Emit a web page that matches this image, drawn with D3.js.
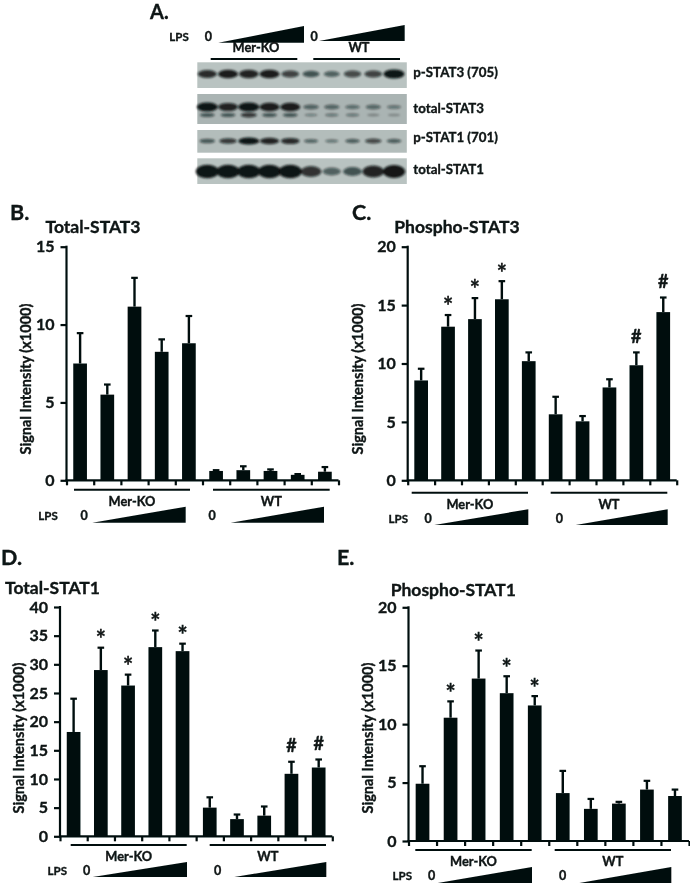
<!DOCTYPE html>
<html><head><meta charset="utf-8">
<script src="https://cdnjs.cloudflare.com/ajax/libs/d3/7.8.5/d3.min.js"></script>
<style>
html,body{margin:0;padding:0;background:#fff}
svg{display:block}
text{font-family:Lato,"Open Sans",sans-serif;font-weight:700;fill:#0c1414;stroke:#0c1414;stroke-width:0.35px}
</style></head><body><svg id="c" width="690" height="883"></svg>
<script>
// ---------- data ----------
const lanes = ["KO-0","KO-1","KO-2","KO-3","KO-4","WT-0","WT-1","WT-2","WT-3","WT-4"];
const groupNames = ["Mer-KO","WT"];
const yTitle = "Signal Intensity (x1000)";

const totalStat3Mean = [7.5,5.5,11.15,8.25,8.8,0.6,0.65,0.6,0.35,0.55];
const totalStat3Top  = [9.45,6.15,13,9.05,10.55,0.65,0.9,0.7,0.4,0.85];
const totalStat3Marks = ["","","","","","","","","",""];
const totalStat3Ticks = [0,5,10,15];

const phosphoStat3Mean = [8.55,13.15,13.8,15.5,10.2,5.65,5.05,7.95,9.85,14.4];
const phosphoStat3Top  = [9.55,14.15,15.6,17.05,10.95,7.15,5.5,8.65,10.95,15.65];
const phosphoStat3Marks = ["","*","*","*","","","","","#","#"];
const phosphoStat3Ticks = [0,5,10,15,20];

const totalStat1Mean = [18.2,29,26.3,33,32.3,5,3,3.6,10.9,12];
const totalStat1Top  = [24,32.9,28.2,35.9,33.6,6.8,3.8,5.2,13,13.4];
const totalStat1Marks = ["","*","*","*","*","","","","#","#"];
const totalStat1Ticks = [0,5,10,15,20,25,30,35,40];

const phosphoStat1Mean = [4.9,10.55,13.9,12.65,11.6,4.1,2.75,3.2,4.4,3.85];
const phosphoStat1Top  = [6.4,11.95,16.3,14.1,12.4,6,3.6,3.35,5.15,4.4];
const phosphoStat1Marks = ["","*","*","*","*","","","","",""];
const phosphoStat1Ticks = [0,5,10,15,20];

// blot band strengths, 0..1
const blotPStat3 = [0.8,0.9,0.85,0.9,0.65,0.55,0.45,0.6,0.65,1];
const blotTStat3 = [1,0.85,1,0.9,0.9,0.4,0.38,0.32,0.36,0.26];
const blotTStat3Lower = [0.5,0.5,0.7,0.5,0.5,0.2,0.25,0.25,0.1,0.08];
const blotPStat1 = [0.5,0.7,1,0.85,0.8,0.4,0.3,0.45,0.6,0.45];
const blotTStat1 = [1,1,1,1,1,0.75,0.45,0.55,0.85,0.95];
const blotLabels = ["p-STAT3 (705)","total-STAT3","p-STAT1 (701)","total-STAT1"];

// ---------- drawing ----------
const INK = "#050f0f";
const svg = d3.select("#c");
const defs = svg.append("defs");
defs.append("filter").attr("id","bl").attr("x","-40%").attr("y","-80%").attr("width","180%").attr("height","260%")
  .append("feGaussianBlur").attr("stdDeviation","1.2");
defs.append("filter").attr("id","soft").attr("x","-5%").attr("y","-5%").attr("width","110%").attr("height","110%")
  .append("feGaussianBlur").attr("stdDeviation","0.3");
const root = svg.append("g").attr("filter","url(#soft)");

function txt(x,y,s,size,anchor){
  return root.append("text").attr("x",x).attr("y",y).attr("dy","0.35em")
    .attr("font-size",size).attr("text-anchor",anchor||"middle").text(s);
}
function wedge(x0,x1,yb,yt){
  root.append("path").attr("d",d3.line()([[x0,yb],[x1,yt],[x1,yb]])+"Z").attr("fill",INK);
}
function rule(x0,x1,y,w){
  root.append("line").attr("x1",x0).attr("x2",x1).attr("y1",y).attr("y2",y)
    .attr("stroke",INK).attr("stroke-width",w||2);
}

function panel(o){
  const g = root.append("g");
  const edge = d3.scaleLinear().domain([0,lanes.length]).range([o.x0,o.x1]);
  const x = d3.scaleBand().domain(lanes).range([o.x0,o.x1]).paddingInner(0.5).paddingOuter(0.25);
  const y = d3.scaleLinear().domain([0,o.ticks[o.ticks.length-1]]).range([o.y0,o.y1]);
  const bw = 13.7;
  const cx = (d)=>x(d)+x.bandwidth()/2;

  g.selectAll("line.err").data(lanes).join("line").attr("class","err")
    .attr("x1",cx).attr("x2",cx)
    .attr("y1",(d,i)=>y(o.mean[i])).attr("y2",(d,i)=>y(o.top[i]))
    .attr("stroke",INK).attr("stroke-width",2.4);
  g.selectAll("line.cap").data(lanes).join("line").attr("class","cap")
    .attr("x1",d=>cx(d)-3.3).attr("x2",d=>cx(d)+3.3)
    .attr("y1",(d,i)=>y(o.top[i])).attr("y2",(d,i)=>y(o.top[i]))
    .attr("stroke",INK).attr("stroke-width",2.2);
  g.selectAll("rect").data(lanes).join("rect")
    .attr("x",d=>cx(d)-bw/2).attr("width",bw)
    .attr("y",(d,i)=>y(o.mean[i])).attr("height",(d,i)=>o.y0-y(o.mean[i]))
    .attr("fill",INK);
  g.selectAll("text.mark").data(lanes).join("text").attr("class","mark")
    .attr("x",cx).attr("text-anchor","middle").attr("dy","0.35em")
    .attr("y",(d,i)=>y(o.top[i])-(o.marks[i]==="#"?16:8))
    .attr("font-size",(d,i)=>o.marks[i]==="#"?18:24)
    .text((d,i)=>o.marks[i]);

  const ay = g.append("g").attr("transform",`translate(${o.x0},0)`)
    .call(d3.axisLeft(y).tickValues(o.ticks).tickSize(6).tickPadding(6).tickFormat(d3.format("d")));
  const ax = g.append("g").attr("transform",`translate(0,${o.y0})`)
    .call(d3.axisBottom(edge).tickValues(d3.range(0,lanes.length+1)).tickSize(5).tickFormat(""));
  [ay,ax].forEach(a=>{
    a.selectAll("path").attr("stroke",INK).attr("stroke-width",2.2);
    a.selectAll("line").attr("stroke",INK).attr("stroke-width",2.2);
    a.selectAll("text").attr("font-size",16).attr("font-family",null);
  });
  ay.selectAll("path").attr("d",`M-0,${o.y0+1}V${o.y1-1}`);
  ax.selectAll("path").attr("d",`M${o.x0-1},0H${o.x1}`);
  ay.attr("font-family",null);
  ax.attr("font-family",null);

  txt(o.tx,o.ty,o.title,17.5,"start");
  root.append("text").attr("transform",`translate(${o.lx},${o.ly}) rotate(-90)`)
    .attr("dy","0.35em").attr("text-anchor","middle").attr("font-size",14.5).text(yTitle);
  txt(o.letter[1],o.letter[2],o.letter[0],21.5,"start");

  rule(o.kb[0],o.kb[1],o.by); rule(o.wb[0],o.wb[1],o.by);
  txt((o.kb[0]+o.kb[1])/2,o.gy,groupNames[0],12.8);
  txt((o.wb[0]+o.wb[1])/2,o.gy,groupNames[1],12.8);
  txt(o.lps[0],o.lps[1],"LPS",11.5);
  txt(o.z[0],o.lps[1],"0",12.5); txt(o.z[1],o.lps[1],"0",12.5);
  wedge(o.kw[0],o.kw[1],o.wy[0],o.wy[1]);
  wedge(o.ww[0],o.ww[1],o.wy[0],o.wy[1]);
}

panel({title:"Total-STAT3",mean:totalStat3Mean,top:totalStat3Top,marks:totalStat3Marks,ticks:totalStat3Ticks,
  x0:66.5,x1:338.5,y0:480.3,y1:246.7,tx:45.5,ty:226.5,lx:26,ly:379,letter:["B.",10,212],
  kb:[74,190],wb:[213,329.7],by:489.7,gy:502,lps:[48,516],z:[84,212],kw:[92.3,185.7],ww:[230.7,324],wy:[522.7,506.7]});
panel({title:"Phospho-STAT3",mean:phosphoStat3Mean,top:phosphoStat3Top,marks:phosphoStat3Marks,ticks:phosphoStat3Ticks,
  x0:407.7,x1:676.7,y0:480.3,y1:246.7,tx:394.3,ty:226.5,lx:357.7,ly:379,letter:["C.",352,212],
  kb:[411.7,528],wb:[550.7,667.3],by:492.7,gy:504.5,lps:[398.3,519],z:[428,559.3],kw:[434.3,528.3],ww:[575.7,667.7],wy:[525,509.3]});
panel({title:"Total-STAT1",mean:totalStat1Mean,top:totalStat1Top,marks:totalStat1Marks,ticks:totalStat1Ticks,
  x0:60,x1:332.3,y0:836.3,y1:607,tx:5,ty:588,lx:19.3,ly:738,letter:["D.",1,557],
  kb:[70.7,186.7],wb:[209.7,326],by:845,gy:857,lps:[57.3,871],z:[86.7,217.7],kw:[92.7,187],ww:[234.3,326.3],wy:[877,862]});
panel({title:"Phospho-STAT1",mean:phosphoStat1Mean,top:phosphoStat1Top,marks:phosphoStat1Marks,ticks:phosphoStat1Ticks,
  x0:408.5,x1:689,y0:841,y1:607.3,tx:390.7,ty:590,lx:368.3,ly:738,letter:["E.",337,557],
  kb:[415.3,531.7],wb:[554.7,671],by:850,gy:861.5,lps:[402.3,876],z:[431.7,562.7],kw:[437.7,532],ww:[579.3,671.3],wy:[883,867]});

// ---------- panel A: blots ----------
const laneX = d3.scalePoint().domain(lanes).range([207.3,394]);
const blots = root.append("g");
function blotRow(r){
  blots.append("rect").attr("x",197.3).attr("width",209.5).attr("y",r.top).attr("height",r.h).attr("fill",r.bg);
  r.layers.forEach(l=>{
    const a = d3.scaleLinear().domain([0,1]).range([0.2,1]);
    blots.append("g").attr("filter","url(#bl)").selectAll("ellipse").data(l.v).join("ellipse")
      .attr("cx",(d,i)=>laneX(lanes[i])).attr("cy",l.y)
      .attr("rx",d=>l.rx[0]+(l.rx[1]-l.rx[0])*d).attr("ry",d=>l.ry[0]+(l.ry[1]-l.ry[0])*d)
      .attr("fill","#0a1212").attr("opacity",d=>a(d));
  });
}
blotRow({top:62.3,h:25.7,bg:"#b9c3c1",layers:[{v:blotPStat3,y:74,rx:[6,10.5],ry:[1.6,4.6]}]});
blotRow({top:94,h:30,bg:"#aab4b3",layers:[{v:blotTStat3Lower,y:115,rx:[6,9],ry:[1.2,3]},{v:blotTStat3,y:107,rx:[6,10.5],ry:[1.2,4.6]}]});
blotRow({top:130,h:22.7,bg:"#b3bdbb",layers:[{v:blotPStat1,y:141,rx:[5,10.5],ry:[1,3.6]}]});
blotRow({top:158.3,h:25.7,bg:"#b9c3c1",layers:[{v:blotTStat1,y:171.5,rx:[7,11.5],ry:[1.5,6.8]}]});

txt(150,12,"A.",20,"start");
txt(179,36.7,"LPS",11.5); txt(208.3,36.7,"0",12.5); txt(314,36.7,"0",12.5);
wedge(218.3,304,42.7,26); wedge(319,404.7,41,25);
txt(256,48,groupNames[0],12.8); txt(359,48,groupNames[1],12.8);
rule(210.7,297.3,59); rule(313.3,400,59);
[72.7,108.7,137.7,169.3].forEach((yy,i)=>txt(413.3,yy,blotLabels[i],13.3,"start"));
</script></body></html>
